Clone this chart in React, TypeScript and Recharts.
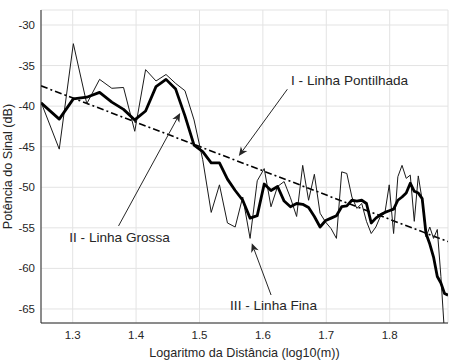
import React from 'react'
import {
    LineChart, Line, XAxis, YAxis, CartesianGrid, ReferenceLine, ReferenceDot, Label
} from 'recharts'

// log10 da distância (m), um ponto por metro
const LOG_DIST = [
    1.25, 1.2788, 1.301, 1.3222, 1.3424, 1.3617, 1.3802, 1.3979, 1.415, 1.4314,
    1.4472, 1.4624, 1.4771, 1.4914, 1.5051, 1.5185, 1.5315, 1.5441, 1.5563, 1.5682,
    1.5798, 1.5911, 1.6021, 1.6128, 1.6232, 1.6335, 1.6435, 1.6532, 1.6628, 1.6721,
    1.6812, 1.6902, 1.699, 1.7076, 1.716, 1.7243, 1.7324, 1.7404, 1.7482, 1.7559,
    1.7634, 1.7709, 1.7782, 1.7853, 1.7924, 1.7993, 1.8062, 1.8129, 1.8195, 1.8261,
    1.8325, 1.8388, 1.8451, 1.8513, 1.8573, 1.8633, 1.8692, 1.8751, 1.8808, 1.8865,
    1.8921,
]

// III - medida (linha fina)
const THIN = [
    -39.5, -45.3, -32.3, -39.7, -36.7, -37.8, -37.7, -43.1, -35.5, -36.9,
    -36.1, -37.2, -38.1, -41.7, -46.6, -53.1, -49.7, -54.4, -54.9, -51.2,
    -56.3, -49.2, -47.7, -52.4, -49.9, -49.3, -51.3, -53.6, -47.3, -51.6,
    -48.4, -53.2, -54.3, -55.1, -56.3, -48.1, -48.3, -51.2, -52.6, -52.0,
    -54.2, -55.7, -54.9, -53.6, -53.2, -49.7, -55.7, -48.7, -47.3, -48.9,
    -48.5, -54.2, -48.6, -51.6, -56.1, -54.9, -56.3, -55.2, -61.0, -68.0,
    -70.0,
]

// II - média móvel (linha grossa)
const THICK = [
    -39.6, -41.6, -39.1, -38.9, -38.3, -39.5, -40.4, -41.7, -40.6, -37.6,
    -36.7, -37.9, -41.2, -44.8, -45.6, -47.0, -47.0, -49.0, -50.4, -51.6,
    -53.8, -53.5, -49.6, -50.4, -49.9, -51.7, -52.4, -52.0, -52.1, -52.5,
    -53.6, -54.9, -54.1, -53.8, -53.5, -52.4, -52.3, -51.6, -51.7, -51.6,
    -52.0, -54.4, -53.8, -53.4, -53.1, -52.9, -52.7, -51.6, -51.2, -50.7,
    -49.5, -50.5, -50.7, -51.4, -55.7, -57.0, -58.6, -61.0, -61.8, -63.1,
    -63.3,
]

// I - regressão (linha pontilhada)
const TREND_X = [1.25, 1.892]
const TREND_Y = [-37.5, -56.7]

const X_TICKS = [1.3, 1.4, 1.5, 1.6, 1.7, 1.8]
const Y_TICKS = [-65, -60, -55, -50, -45, -40, -35, -30]

const data = LOG_DIST.map((x, i) => ({ x, thin: THIN[i], thick: THICK[i] }))
const trend = TREND_X.map((x, i) => ({ x, trend: TREND_Y[i] }))

const INK = '#262626'
const FONT = '"Liberation Sans", Arial, Helvetica, sans-serif'

// seta estilo MATLAB (ponta no segundo ponto)
const Arrow = (p: any) => {
    const { x1, y1, x2, y2 } = p
    const a = Math.atan2(y2 - y1, x2 - x1)
    const len = 9, half = 4, back = 6.5
    const bx = x2 - len * Math.cos(a), by = y2 - len * Math.sin(a)
    const nx = x2 - back * Math.cos(a), ny = y2 - back * Math.sin(a)
    const px = -Math.sin(a) * half, py = Math.cos(a) * half
    return (
        <g>
            <line x1={x1} y1={y1} x2={nx} y2={ny} stroke={INK} strokeWidth={1} />
            <polygon points={`${x2},${y2} ${bx + px},${by + py} ${nx},${ny} ${bx - px},${by - py}`} fill={INK} />
        </g>
    )
}

const note = (text: string) => (p: any) => (
    <text x={p.cx} y={p.cy} dominantBaseline="central" fontSize={13.6} fill={INK} fontFamily={FONT}>{text}</text>
)

export default function App() {
    return (
        <div style={{ width: 458, height: 364, background: '#fff' }}>
            <style>{'body{margin:0}'}</style>
            <LineChart width={458} height={364} data={data}
                margin={{ top: 10, right: 10, left: 8, bottom: 0 }}
                style={{ fontFamily: FONT }}>
                <CartesianGrid stroke="#e3e3e3" strokeWidth={1} />
                <XAxis dataKey="x" type="number" domain={[1.25, 1.892]} ticks={X_TICKS} allowDataOverflow
                    height={41} tickLine={false} axisLine={{ stroke: INK }} tickSize={6} tickMargin={2}
                    tick={{ fontSize: 11.5, fill: INK }} tickFormatter={(v) => v.toFixed(1)}>
                    <Label content={({ viewBox }: any) => (
                        <text x={viewBox.x + viewBox.width / 2} y={353} textAnchor="middle" dominantBaseline="central"
                            fontSize={12.6} fill={INK} fontFamily={FONT}>Logaritmo da Distância (log10(m))</text>
                    )} />
                </XAxis>
                <YAxis type="number" domain={[-66.73, -28.15]} ticks={Y_TICKS} allowDataOverflow
                    width={33} tickLine={false} axisLine={{ stroke: INK }} tickSize={4} tickMargin={2}
                    tick={{ fontSize: 11.5, fill: INK }}>
                    <Label content={({ viewBox }: any) => {
                        const cy = viewBox.y + viewBox.height / 2
                        return (
                            <text x={8} y={cy} transform={`rotate(-90 8 ${cy})`} textAnchor="middle" dominantBaseline="central"
                                fontSize={12.6} fill={INK} fontFamily={FONT}>Potência do Sinal (dB)</text>
                        )
                    }} />
                </YAxis>
                <Line data={trend} dataKey="trend" type="linear" stroke="#000" strokeWidth={1.6}
                    strokeDasharray="7 3 2 3" dot={false} isAnimationActive={false} />
                <Line dataKey="thin" type="linear" stroke="#1a1a1a" strokeWidth={1} dot={false} isAnimationActive={false} />
                <Line dataKey="thick" type="linear" stroke="#000" strokeWidth={2.8} strokeLinejoin="round" dot={false} isAnimationActive={false} />

                <ReferenceLine segment={[{ x: 1.6386, y: -37.92 }, { x: 1.562, y: -46.15 }]} shape={Arrow} />
                <ReferenceLine segment={[{ x: 1.3723, y: -54.77 }, { x: 1.4695, y: -40.85 }]} shape={Arrow} />
                <ReferenceLine segment={[{ x: 1.6129, y: -63.28 }, { x: 1.5825, y: -56.9 }]} shape={Arrow} />

                <ReferenceDot x={1.6444} y={-36.9} r={0} shape={note('I - Linha Pontilhada')} />
                <ReferenceDot x={1.2946} y={-56.13} r={0} shape={note('II - Linha Grossa')} />
                <ReferenceDot x={1.5483} y={-64.6} r={0} shape={note('III - Linha Fina')} />
            </LineChart>
        </div>
    )
}
